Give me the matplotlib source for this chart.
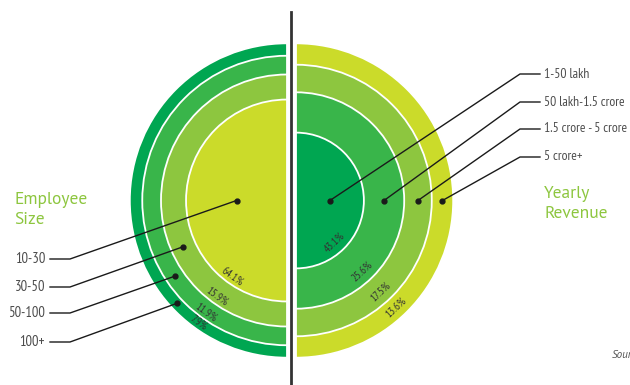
import matplotlib
matplotlib.use("Agg")
import matplotlib.pyplot as plt
from matplotlib.patches import Wedge
import numpy as np

# ---- data ----
emp_categories = ["10-30", "30-50", "50-100", "100+"]
emp_values = [64.1, 15.9, 11.9, 7.9]
rev_categories = ["1-50 lakh", "50 lakh-1.5 crore", "1.5 crore - 5 crore", "5 crore+"]
rev_values = [43.1, 25.6, 17.5, 13.6]

emp_colors = ["#cbdb2a", "#8dc63f", "#39b54a", "#00a651"]
rev_colors = ["#00a651", "#39b54a", "#8dc63f", "#cbdb2a"]

W, H = 630, 385
fig = plt.figure(figsize=(W / 100, H / 100), dpi=100)
ax = fig.add_axes([0, 0, 1, 1])
ax.set_xlim(0, W)
ax.set_ylim(0, H)
ax.set_aspect("equal")
ax.axis("off")

FONT = ["PT Sans Narrow", "DejaVu Sans"]
TFONT = ["PT Sans", "DejaVu Sans"]
R = 157.5  # pixels for 100 %
cy = H - 200.5
cx_left, cx_right = 287, 296


def rings(cx, values, colors, t1, t2):
    cum = np.cumsum(values)
    radii = cum / 100.0 * R
    for r, c in reversed(list(zip(radii, colors))):
        ax.add_patch(Wedge((cx, cy), r, t1, t2, facecolor=c,
                           edgecolor="white", linewidth=1.3))
    return radii


lr = rings(cx_left, emp_values, emp_colors, 90, 270)
rr = rings(cx_right, rev_values, rev_colors, -90, 90)

# percentage labels
ang_l = np.deg2rad(234)
for i, v in enumerate(emp_values):
    inner = lr[i - 1] if i > 0 else 0
    rl = lr[i] - min(7, (lr[i] - inner) / 2)
    ax.text(cx_left + rl * np.cos(ang_l), cy + rl * np.sin(ang_l), f"{v}%",
            rotation=-36, ha="center", va="center", fontsize=8,
            color="#333333", family=FONT, rotation_mode="anchor")
ang_r = np.deg2rad(-47)
for i, v in enumerate(rev_values):
    inner = rr[i - 1] if i > 0 else 0
    rl = rr[i] - min(11, (rr[i] - inner) / 2)
    ax.text(cx_right + rl * np.cos(ang_r), cy + rl * np.sin(ang_r), f"{v}%",
            rotation=43, ha="center", va="center", fontsize=8,
            color="#333333", family=FONT, rotation_mode="anchor")

# leader lines - left
dot_angles_l = [180, 204, 214, 223]
label_y_l = [H - 259, H - 287, H - 313, H - 342]
for i, cat in enumerate(emp_categories):
    inner = lr[i - 1] if i > 0 else 0
    rm = (inner + lr[i]) / 2
    a = np.deg2rad(dot_angles_l[i])
    dx, dy = cx_left + rm * np.cos(a), cy + rm * np.sin(a)
    ax.plot([dx, 70, 50], [dy, label_y_l[i], label_y_l[i]], color="#1a1a1a", lw=1)
    ax.plot(dx, dy, "o", color="#1a1a1a", ms=3.5)
    ax.text(45, label_y_l[i], cat, ha="right", va="center", fontsize=10.5,
            color="#4d4d4d", family=FONT)

# leader lines - right
label_y_r = [H - 74, H - 102, H - 129, H - 157]
for i, cat in enumerate(rev_categories):
    inner = rr[i - 1] if i > 0 else 0
    rm = (inner + rr[i]) / 2
    dx, dy = cx_right + rm, cy
    ax.plot([dx, 520, 540], [dy, label_y_r[i], label_y_r[i]], color="#1a1a1a", lw=1)
    ax.plot(dx, dy, "o", color="#1a1a1a", ms=3.5)
    ax.text(544, label_y_r[i], cat, ha="left", va="center", fontsize=9.8,
            color="#4d4d4d", family=FONT)

# titles
ax.text(14, H - 210, "Employee\nSize", ha="left", va="center", fontsize=12.5,
        color="#8dc63f", family=TFONT, linespacing=1.25)
ax.text(544, H - 204, "Yearly\nRevenue", ha="left", va="center", fontsize=12.5,
        color="#8dc63f", family=TFONT, linespacing=1.25)

# divider
ax.plot([291, 291], [H - 12, 0], color="#333333", lw=2)

# source (clipped at the figure edge, as in the original)
ax.text(612, H - 355, "Source", ha="left", va="center", fontsize=8,
        color="#555555", style="italic", family=TFONT)

fig.savefig("out.png", dpi=100)
